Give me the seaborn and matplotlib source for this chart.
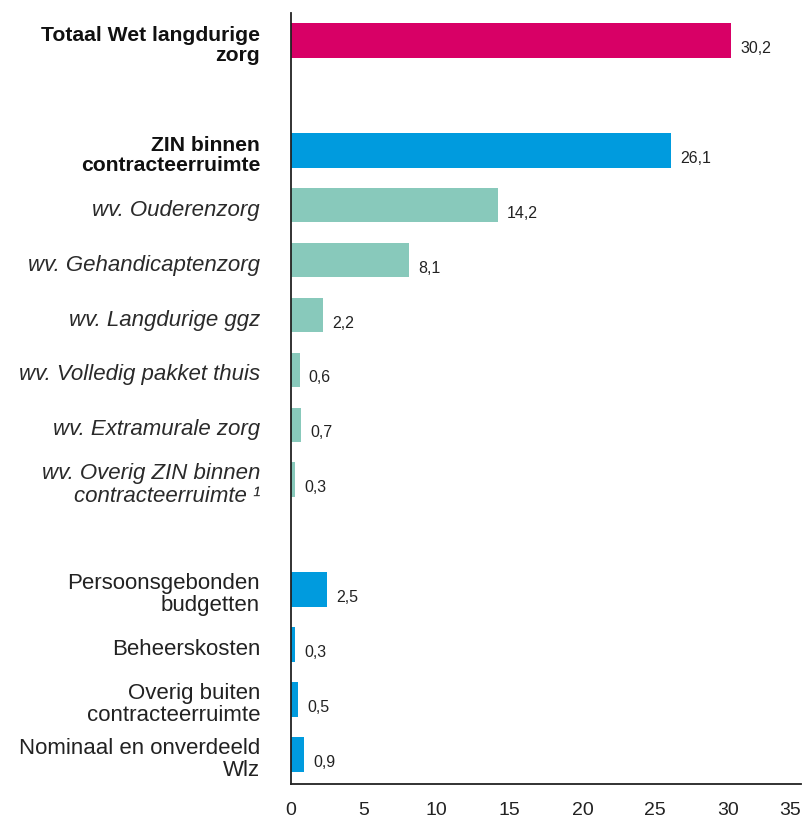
import matplotlib
matplotlib.use("Agg")
import matplotlib.pyplot as plt
import matplotlib.transforms as mtransforms
import seaborn as sns
import pandas as pd

# Wlz uitgaven (mld euro)
labels = [
    "Totaal Wet langdurige\nzorg",
    "ZIN binnen\ncontracteerruimte",
    "wv. Ouderenzorg",
    "wv. Gehandicaptenzorg",
    "wv. Langdurige ggz",
    "wv. Volledig pakket thuis",
    "wv. Extramurale zorg",
    "wv. Overig ZIN binnen\ncontracteerruimte \u00b9",
    "Persoonsgebonden\nbudgetten",
    "Beheerskosten",
    "Overig buiten\ncontracteerruimte",
    "Nominaal en onverdeeld\nWlz",
]
values = [30.2, 26.1, 14.2, 8.1, 2.2, 0.6, 0.7, 0.3, 2.5, 0.3, 0.5, 0.9]
groups = ["totaal", "zin", "wv", "wv", "wv", "wv", "wv", "wv",
          "overig", "overig", "overig", "overig"]
# row slots, leaving empty rows between the blocks
slots = [0, 2, 3, 4, 5, 6, 7, 8, 10, 11, 12, 13]
xticks = [0, 5, 10, 15, 20, 25, 30, 35]

palette = {"totaal": "#D80066", "zin": "#009BDE", "wv": "#88C9BB", "overig": "#009BDE"}

df = pd.DataFrame({"label": labels, "value": values, "group": groups, "slot": slots})

sns.set_style("white")
plt.rcParams["font.family"] = ["Liberation Sans", "DejaVu Sans"]

fig = plt.figure(figsize=(8.07, 8.27), dpi=100)
ax = fig.add_axes([291 / 807, 1 - 784 / 827, 510 / 807, (784 - 13) / 827])

sns.barplot(data=df, x="value", y="slot", hue="group", palette=palette,
            orient="h", native_scale=True, width=0.63, dodge=False,
            legend=False, saturation=1, linewidth=0, ax=ax)

ax.set_xlim(0, 35)
ax.set_ylim(13.54, -0.5)
ax.set_xticks(xticks)
ax.set_xticklabels([str(t) for t in xticks], fontsize=14, color="#222222")
# the last tick label sits against the right edge
ax.get_xticklabels()[-1].set_horizontalalignment("right")
ax.set_yticks(slots)
ax.set_yticklabels([])
ax.set_xlabel("")
ax.set_ylabel("")

# category labels: right-aligned left of the axis, a few pixels below bar centres
label_tf = ax.get_yaxis_transform() + mtransforms.ScaledTranslation(
    -31 / 100, -5 / 100, fig.dpi_scale_trans)
for lab, grp, s in zip(labels, groups, slots):
    kw = dict(ha="right", va="center", ma="right", linespacing=1.1,
              transform=label_tf)
    if grp in ("totaal", "zin"):
        kw.update(fontsize=15.2, fontweight="bold", color="#111111")
    elif grp == "wv":
        kw.update(fontsize=16, fontstyle="italic", color="#2a2a2a")
    else:
        kw.update(fontsize=16, color="#222222")
    ax.text(0, s, lab, **kw)

ax.tick_params(axis="y", length=0)
ax.tick_params(axis="x", length=7, width=1.2, color="#222222", direction="out", pad=6)

for side in ("top", "right"):
    ax.spines[side].set_visible(False)
for side in ("left", "bottom"):
    ax.spines[side].set_color("#222222")
    ax.spines[side].set_linewidth(1.3)

for v, s in zip(values, slots):
    ax.annotate(f"{v:.1f}".replace(".", ","), xy=(v, s), xytext=(9, -8),
                textcoords="offset pixels", ha="left", va="center",
                fontsize=11.5, color="#222222")

fig.savefig("out.png", dpi=100)
